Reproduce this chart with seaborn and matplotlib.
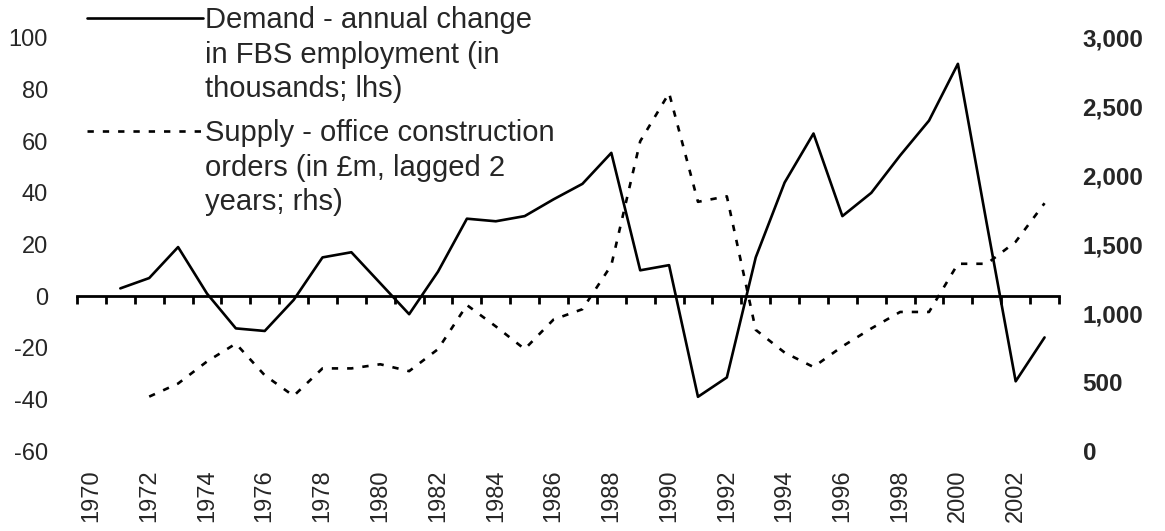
import numpy as np
import pandas as pd
import matplotlib
matplotlib.use("Agg")
import matplotlib.pyplot as plt
from matplotlib.lines import Line2D
from matplotlib.ticker import FuncFormatter
import seaborn as sns

# ---- data ----
demand_years = list(range(1971, 2004))
demand = [3, 7, 19, 1, -12.5, -13.5, -1.5, 15, 17, 5, -7, 9.5, 30, 29, 31, 37.5,
          43.5, 55.5, 10, 12, -39, -31.5, 15, 44, 63, 31, 40, 54.5, 68, 90, 28,
          -33, -16]
supply_years = list(range(1972, 2004))
supply = [395, 490, 650, 780, 550, 400, 600, 600, 630, 580, 740, 1060, 905, 740,
          955, 1030, 1350, 2250, 2600, 1810, 1850, 880, 715, 610, 760, 890, 1010,
          1010, 1360, 1360, 1520, 1800]
year_ticks = list(range(1970, 2003, 2))
left_ticks = [-60, -40, -20, 0, 20, 40, 60, 80, 100]
right_ticks = [0, 500, 1000, 1500, 2000, 2500, 3000]
demand_label = ["Demand - annual change", "in FBS employment (in", "thousands; lhs)"]
supply_label = ["Supply - office construction", "orders (in £m, lagged 2", "years; rhs)"]

sns.set_style("white")
plt.rcParams["font.family"] = ["Liberation Sans", "DejaVu Sans"]
plt.rcParams["axes.unicode_minus"] = False

W, H = 1165, 531
fig = plt.figure(figsize=(W / 100, H / 100), dpi=100)
L, R, T, B = 77, 1059, 38, 451
ax = fig.add_axes([L / W, 1 - B / H, (R - L) / W, (B - T) / H])
ax2 = ax.twinx()

dash = (0, (2.4, 3.4))
lw = 1.9

df_d = pd.DataFrame({"year": demand_years, "value": demand})
df_s = pd.DataFrame({"year": supply_years, "value": supply})
sns.lineplot(data=df_d, x="year", y="value", ax=ax, color="black", lw=lw)
sns.lineplot(data=df_s, x="year", y="value", ax=ax2, color="black", lw=lw,
             linestyle=dash)

ax.set_xlim(1969.5, 2003.5)
ax.set_ylim(-60, 100)
ax2.set_ylim(0, 3000)
for a in (ax, ax2):
    a.set_xlabel("")
    a.set_ylabel("")
    for s in a.spines.values():
        s.set_visible(False)

ax.set_yticks(left_ticks)
ax.tick_params(axis="y", length=0, pad=21, labelsize=17)
ax2.set_yticks(right_ticks)
ax2.yaxis.set_major_formatter(FuncFormatter(lambda v, p: f"{int(v):,}"))
ax2.tick_params(axis="y", length=0, pad=17, labelsize=17.5)
for t in ax2.get_yticklabels():
    t.set_fontweight("bold")

ax.set_xticks(year_ticks)
ax.set_xticklabels([str(y) for y in year_ticks], rotation=90)
ax.tick_params(axis="x", length=0, pad=13, labelsize=17)

# zero axis line with category boundary ticks
sec = ax.secondary_xaxis(60 / 160)
sec.set_xticks(np.arange(1969.5, 2004.0, 1.0))
sec.tick_params(axis="x", direction="out", length=5.5, width=2, labelbottom=False,
                labeltop=False, color="black")
sec.spines["bottom"].set_linewidth(2)
sec.spines["bottom"].set_color("black")

fs = 21
fs_px = fs * 100 / 72
empty = Line2D([], [], color="none")
h1 = [Line2D([], [], color="black", lw=lw), empty, empty]
h2 = [Line2D([], [], color="black", lw=lw, linestyle=dash), empty, empty]
common = dict(loc="upper left", bbox_transform=fig.transFigure, frameon=False,
              borderpad=0, borderaxespad=0, handlelength=116 / fs_px,
              handletextpad=0.06, labelspacing=0.23, fontsize=fs)
leg1 = ax2.legend(h1, demand_label, bbox_to_anchor=(87 / W, 1 - 6 / H), **common)
ax2.add_artist(leg1)
leg2 = ax2.legend(h2, supply_label, bbox_to_anchor=(87 / W, 1 - 119 / H), **common)

fig.savefig("out.png", dpi=100)
